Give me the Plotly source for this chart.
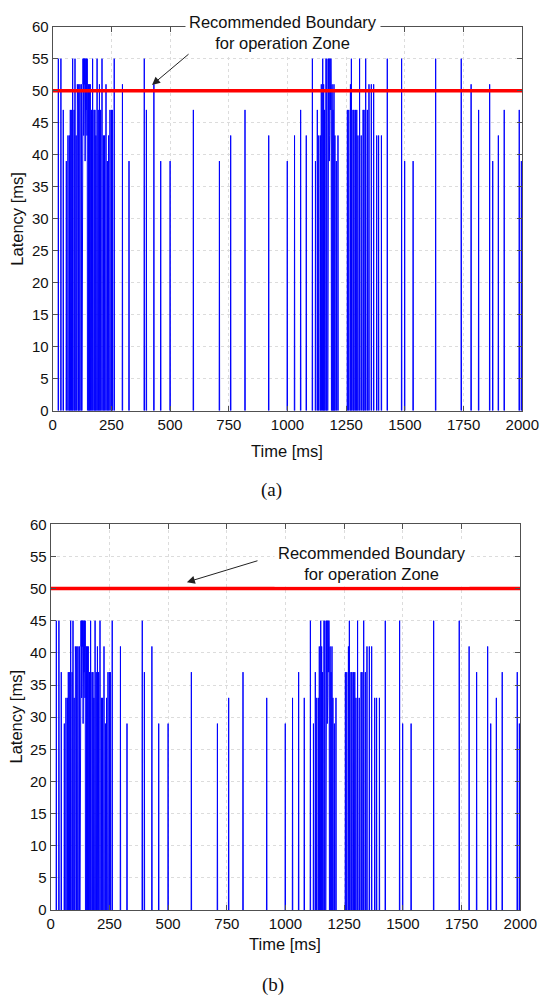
import numpy as np
import plotly.graph_objects as go

# ---------------- data ----------------
x_ticks = [0, 250, 500, 750, 1000, 1250, 1500, 1750, 2000]
y_ticks = [0, 5, 10, 15, 20, 25, 30, 35, 40, 45, 50, 55, 60]
boundary_ms = 50

spike_time_ms = [
    24, 35, 45, 58, 65, 71, 75, 81, 85, 91, 95, 100, 105, 108, 111, 116, 122,
    126, 127, 128, 129, 130, 131, 132, 133, 134, 135, 136, 137, 138, 139, 140, 141, 142, 143, 144, 145, 146, 147,
    152, 156, 160, 165, 170, 176, 180, 184, 189, 194, 199, 204, 210, 216, 221, 227, 233, 238, 244, 250,
    254, 262, 297, 325, 390, 399, 431, 460, 500, 599, 710, 758, 819, 920, 999, 1030, 1056, 1080, 1106, 1119,
    1127, 1133, 1140, 1144, 1150, 1154, 1158, 1164, 1168,
    1173, 1174, 1175, 1176, 1177, 1178, 1179, 1180, 1181, 1182, 1183, 1184, 1185, 1186,
    1190, 1194, 1198, 1202, 1208, 1215, 1255, 1261, 1268, 1272, 1279, 1283, 1289, 1295, 1300, 1307, 1314,
    1322, 1326, 1333, 1340, 1347, 1357, 1367, 1380, 1388, 1400, 1425, 1486, 1499, 1535, 1631, 1740, 1782,
    1814, 1861, 1874, 1898, 1923, 1987, 1996,
]

latency_a_ms = [
    55, 55, 47, 39, 43, 43, 47, 47, 55, 47, 55, 43, 51, 47, 51, 51, 51,
    55, 51, 47, 55, 51, 55, 43, 55, 47, 55, 51, 55, 39, 55, 51, 55, 47, 55, 55, 51, 43, 55,
    51, 51, 51, 47, 55, 47, 47, 43, 55, 47, 51, 47, 55, 43, 43, 51, 39, 43, 47, 47,
    47, 55, 51, 39, 55, 47, 51, 39, 39, 47, 39, 43, 47, 43, 39, 43, 47, 43, 55, 39,
    47, 43, 43, 51, 55, 51, 47, 55, 55,
    55, 51, 55, 47, 55, 39, 55, 43, 55, 51, 55, 47, 55, 51,
    51, 47, 51, 43, 39, 43, 47, 47, 51, 55, 47, 47, 47, 47, 43, 55, 43,
    47, 47, 55, 47, 51, 51, 51, 43, 43, 43, 55, 55, 39, 39, 55, 55, 51,
    47, 51, 39, 43, 47, 47, 39,
]

latency_b_ms = [
    45, 45, 37, 29, 33, 33, 37, 37, 45, 37, 45, 33, 41, 37, 41, 41, 41,
    45, 41, 37, 45, 41, 45, 33, 45, 37, 45, 41, 45, 29, 45, 41, 45, 37, 45, 45, 41, 33, 45,
    41, 41, 41, 37, 45, 37, 37, 33, 45, 37, 41, 37, 45, 33, 33, 41, 29, 33, 37, 37,
    37, 45, 41, 29, 45, 37, 41, 29, 29, 37, 29, 33, 37, 33, 29, 33, 37, 33, 45, 29,
    37, 33, 33, 41, 45, 41, 37, 45, 45,
    45, 41, 45, 37, 45, 29, 45, 33, 45, 41, 45, 37, 45, 41,
    41, 37, 41, 33, 29, 33, 37, 37, 41, 45, 37, 37, 37, 37, 33, 45, 33,
    37, 37, 45, 37, 41, 41, 41, 33, 33, 33, 45, 45, 29, 29, 45, 45, 41,
    37, 41, 29, 33, 37, 37, 29,
]

assert len(spike_time_ms) == len(latency_a_ms) == len(latency_b_ms)

# -------------- build the sampled (1 ms) latency signal --------------
def spike_series(times, values, t_end=2000):
    t = np.arange(t_end + 1)
    sig = np.zeros(t_end + 1)
    sig[np.array(times)] = values
    active = sig > 0
    keep = active.copy()
    keep[1:] |= active[:-1]
    keep[:-1] |= active[1:]
    y = [float(v) if k else None for v, k in zip(sig, keep)]
    return t.tolist(), y

ta, ya = spike_series(spike_time_ms, latency_a_ms)
tb, yb = spike_series(spike_time_ms, latency_b_ms)

W, H = 542, 995
def px(x):
    return x / W
def py(y):
    return 1 - y / H

BLUE = "#0000ff"
RED = "#ff0000"
AX = "#505050"
FONT = "Liberation Sans, Arial, Helvetica, sans-serif"

fig = go.Figure()
for (t, y, xa, ya_) in [(ta, ya, "x", "y"), (tb, yb, "x2", "y2")]:
    fig.add_trace(go.Scatter(x=t, y=y, mode="lines", line=dict(color=BLUE, width=1),
                             connectgaps=False, xaxis=xa, yaxis=ya_, hoverinfo="skip",
                             showlegend=False))
    fig.add_trace(go.Scatter(x=[x_ticks[0], x_ticks[-1]], y=[boundary_ms, boundary_ms],
                             mode="lines", line=dict(color=RED, width=3.5),
                             xaxis=xa, yaxis=ya_, hoverinfo="skip", showlegend=False))

axis_common = dict(
    showline=True, linecolor=AX, linewidth=1, mirror="ticks",
    ticks="inside", ticklen=5, tickcolor=AX, tickwidth=1,
    showgrid=True, gridcolor="#dcdcdc", griddash="dot", gridwidth=1,
    zeroline=False, tickfont=dict(family=FONT, size=15, color="#111111"),
    fixedrange=True, automargin=False,
)

fig.update_layout(
    template="none",
    width=W, height=H, autosize=False,
    margin=dict(l=0, r=0, t=0, b=0, pad=0),
    paper_bgcolor="white", plot_bgcolor="white",
    showlegend=False,
    xaxis=dict(domain=[px(52.7), px(522.3)], range=[0, 2000], tickvals=x_ticks,
               anchor="y", **axis_common),
    yaxis=dict(domain=[py(410.7), py(26.7)], range=[0, 60], tickvals=y_ticks,
               anchor="x", **axis_common),
    xaxis2=dict(domain=[px(50.7), px(520.3)], range=[0, 2000], tickvals=x_ticks,
                anchor="y2", **axis_common),
    yaxis2=dict(domain=[py(910), py(524.3)], range=[0, 60], tickvals=y_ticks,
                anchor="x2", **axis_common),
)

ann = []
title_font = dict(family=FONT, size=16.5, color="#111111")
# axis titles
ann.append(dict(text="Latency [ms]", x=px(17), y=py(218.7), xref="paper", yref="paper",
                textangle=-90, showarrow=False, font=title_font, xanchor="center", yanchor="middle"))
ann.append(dict(text="Time [ms]", x=px(287), y=py(451), xref="paper", yref="paper",
                showarrow=False, font=title_font, xanchor="center", yanchor="middle"))
ann.append(dict(text="Latency [ms]", x=px(15.5), y=py(717), xref="paper", yref="paper",
                textangle=-90, showarrow=False, font=title_font, xanchor="center", yanchor="middle"))
ann.append(dict(text="Time [ms]", x=px(285), y=py(943.5), xref="paper", yref="paper",
                showarrow=False, font=title_font, xanchor="center", yanchor="middle"))
# captions
cap_font = dict(family="Liberation Serif, Times New Roman, serif", size=19, color="#111111")
ann.append(dict(text="(a)", x=px(271), y=py(490), xref="paper", yref="paper",
                showarrow=False, font=cap_font, xanchor="center", yanchor="middle"))
ann.append(dict(text="(b)", x=px(273), y=py(985), xref="paper", yref="paper",
                showarrow=False, font=cap_font, xanchor="center", yanchor="middle"))
# boundary labels
ann.append(dict(text="Recommended Boundary<br>for operation Zone", x=px(283), y=py(32.5),
                xref="paper", yref="paper", showarrow=False, font=title_font,
                bgcolor="white", borderpad=3, xanchor="center", yanchor="middle"))
ann.append(dict(text="Recommended Boundary<br>for operation Zone", x=px(372), y=py(563),
                xref="paper", yref="paper", showarrow=False, font=title_font,
                bgcolor="white", borderpad=3, xanchor="center", yanchor="middle"))
# arrows
ann.append(dict(text="", x=423, y=50.9, xref="x", yref="y", ax=585, ay=55.9, axref="x", ayref="y",
                showarrow=True, arrowhead=2, arrowsize=1.6, arrowwidth=1, arrowcolor="#222222"))
ann.append(dict(text="", x=580, y=51.0, xref="x2", yref="y2", ax=887, ay=54.4, axref="x2", ayref="y2",
                showarrow=True, arrowhead=2, arrowsize=1.6, arrowwidth=1, arrowcolor="#222222"))
fig.update_layout(annotations=ann)

fig.write_html(
    "out.html",
    config={"displayModeBar": False, "staticPlot": True},
    post_script="document.body.style.margin='0';document.body.style.padding='0';"
                "document.body.style.overflow='hidden';",
)
